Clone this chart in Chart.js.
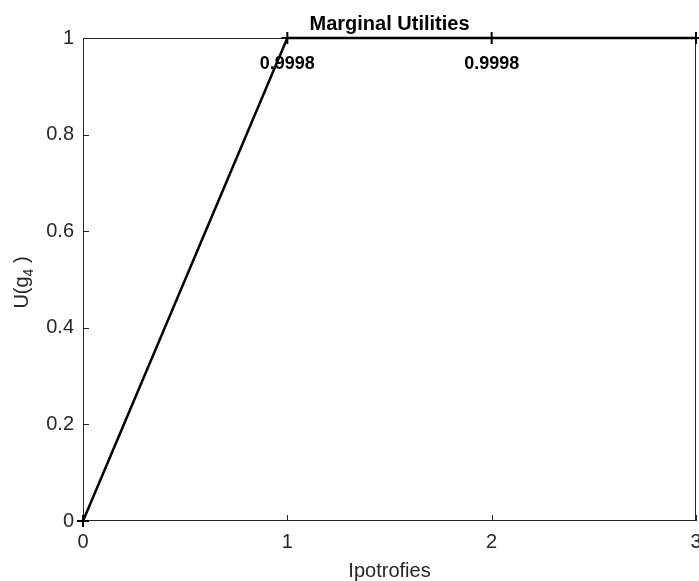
<!DOCTYPE html>
<html>
<head>
<meta charset="utf-8">
<script src="https://cdn.jsdelivr.net/npm/chart.js@4.4.1/dist/chart.umd.min.js"></script>
<style>html, body { margin: 0; padding: 0; background: #fff; }</style>
</head>
<body>
<canvas id="myChart" width="699" height="581"></canvas>
<script>
// values
const xValues = [0, 1, 2, 3];
const uValues = [0, 0.9998, 0.9998, 0.9998];
const pointLabels = ["", "0.9998", "0.9998", ""];
const xTicks = [0, 1, 2, 3];
const yTicks = [0, 0.2, 0.4, 0.6, 0.8, 1];
const titleText = "Marginal Utilities";
const xTitle = "Ipotrofies";

const FONT = '"Liberation Sans", Arial, sans-serif';
const AXIS = "#262626";

// box, inward ticks, titles and point labels (MATLAB look)
const matlabBits = {
  id: "matlabBits",
  beforeDatasetsDraw(chart) {
    const ctx = chart.ctx, a = chart.chartArea;
    const xs = chart.scales.x, ys = chart.scales.y;
    ctx.save();
    ctx.strokeStyle = AXIS;
    ctx.lineWidth = 1;
    ctx.strokeRect(Math.round(a.left) + 0.5, Math.round(a.top) + 0.5,
      Math.round(a.right - a.left) - 1, Math.round(a.bottom - a.top) - 1);
    ctx.beginPath();
    xTicks.forEach(v => {
      const px = Math.round(xs.getPixelForValue(v)) + 0.5;
      ctx.moveTo(px, a.bottom); ctx.lineTo(px, a.bottom - 6);
    });
    yTicks.forEach(v => {
      const py = Math.round(ys.getPixelForValue(v)) + 0.5;
      ctx.moveTo(a.left, py); ctx.lineTo(a.left + 6, py);
    });
    ctx.stroke();
    ctx.restore();
  },
  afterDatasetsDraw(chart) {
    const ctx = chart.ctx, a = chart.chartArea;
    const xs = chart.scales.x, ys = chart.scales.y;
    const cx = (a.left + a.right) / 2;
    ctx.save();
    // point labels
    ctx.fillStyle = "#000";
    ctx.font = "bold 18px " + FONT;
    ctx.textAlign = "center";
    ctx.textBaseline = "middle";
    pointLabels.forEach((t, i) => {
      if (!t) return;
      ctx.fillText(t, xs.getPixelForValue(xValues[i]), ys.getPixelForValue(uValues[i]) + 26);
    });
    // title
    ctx.font = "bold 20px " + FONT;
    ctx.textBaseline = "alphabetic";
    ctx.fillText(titleText, cx, 30);
    // x title
    ctx.fillStyle = AXIS;
    ctx.font = "20px " + FONT;
    ctx.fillText(xTitle, cx, 577);
    // y title U(g_4 )
    ctx.translate(28, (a.top + a.bottom) / 2 + 3);
    ctx.rotate(-Math.PI / 2);
    ctx.textAlign = "left";
    const big = "20px " + FONT, small = "14px " + FONT;
    ctx.font = big; const w1 = ctx.measureText("U(g").width, w3 = ctx.measureText(" )").width;
    ctx.font = small; const w2 = ctx.measureText("4").width;
    let x = -(w1 + w2 + w3) / 2;
    ctx.font = big; ctx.fillText("U(g", x, 0); x += w1;
    ctx.font = small; ctx.fillText("4", x, 5); x += w2;
    ctx.font = big; ctx.fillText(" )", x, 0);
    ctx.restore();
  }
};

new Chart("myChart", {
  type: "line",
  data: {
    datasets: [{
      data: xValues.map((x, i) => ({ x: x, y: uValues[i] })),
      borderColor: "#000",
      borderWidth: 2.5,
      tension: 0,
      fill: false,
      clip: false,
      pointStyle: "cross",
      pointRadius: 6,
      pointBorderWidth: 2,
      pointBorderColor: "#000"
    }]
  },
  options: {
    responsive: false,
    animation: false,
    layout: { autoPadding: false, padding: { top: 38, right: 3, left: 0, bottom: 0 } },
    plugins: { legend: { display: false }, tooltip: { enabled: false } },
    scales: {
      x: {
        type: "linear", min: 0, max: 3,
        grid: { display: false, drawTicks: false },
        border: { display: false },
        ticks: { font: { family: FONT, size: 20 }, color: AXIS, padding: 9 },
        afterBuildTicks: s => { s.ticks = xTicks.map(v => ({ value: v })); },
        afterFit: s => { s.height = 60; s.paddingLeft = 0; s.paddingRight = 0; }
      },
      y: {
        type: "linear", min: 0, max: 1,
        grid: { display: false, drawTicks: false },
        border: { display: false },
        ticks: { font: { family: FONT, size: 20 }, color: AXIS, padding: 9,
          callback: v => String(v) },
        afterBuildTicks: s => { s.ticks = yTicks.map(v => ({ value: v })); },
        afterFit: s => { s.width = 83; s.paddingTop = 0; s.paddingBottom = 0; }
      }
    }
  },
  plugins: [matlabBits]
});
</script>
</body>
</html>
